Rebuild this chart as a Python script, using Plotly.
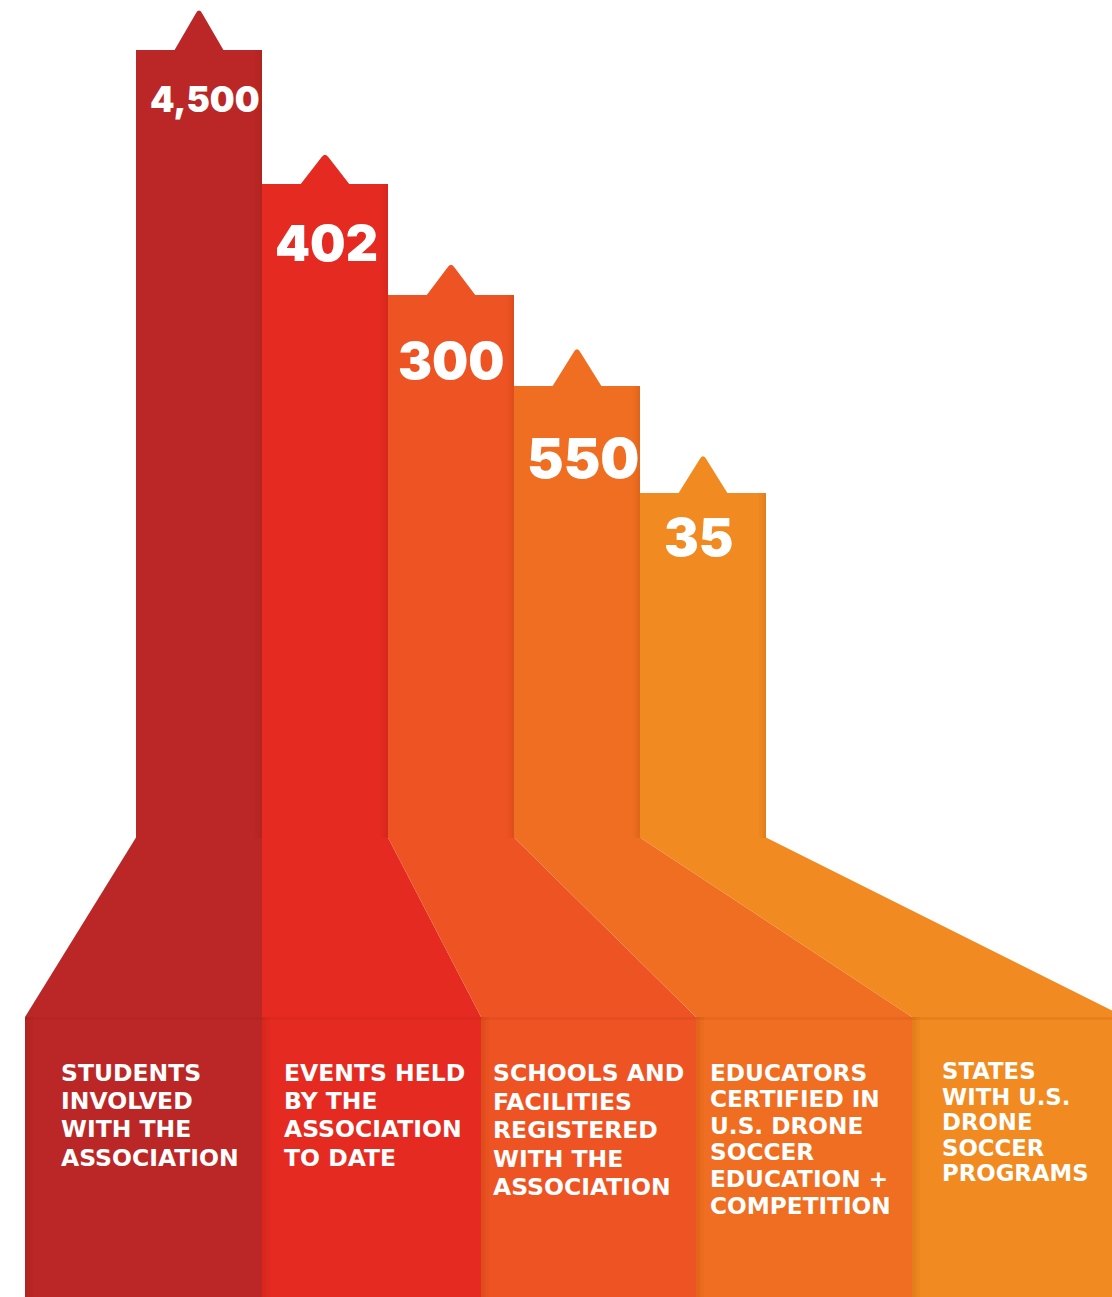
import plotly.graph_objects as go

# ---------------- data ----------------
categories = ["Students", "Events", "Schools", "Educators", "States"]
values = [4500, 402, 300, 550, 35]
value_labels = ["4,500", "402", "300", "550", "35"]
# decorative column heights (infographic, not proportional to values)
column_heights = [788, 654, 543, 452, 345]
labels = [
    "STUDENTS\nINVOLVED\nWITH THE\nASSOCIATION",
    "EVENTS HELD\nBY THE\nASSOCIATION\nTO DATE",
    "SCHOOLS AND\nFACILITIES\nREGISTERED\nWITH THE\nASSOCIATION",
    "EDUCATORS\nCERTIFIED IN\nU.S. DRONE\nSOCCER\nEDUCATION +\nCOMPETITION",
    "STATES\nWITH U.S.\nDRONE\nSOCCER\nPROGRAMS",
]

# ---------------- style / layout ----------------
colors = ["#BB2726", "#E52A22", "#EE5323", "#F06E21", "#F18A20"]
W, H = 1112, 1297
BAR_LEFT_PX = 136
BAR_W_PX = 126
BASE_PX = 838          # bottom of the columns
PANEL_TOP_PX = 1017
PANEL_EDGES_PX = [25, 262, 481, 696, 912, 1125]
TIP_W_PX = 50
TIP_H_PX = [42, 31, 32, 39, 39]
NUM_DX_PX = [6, 1, 0, 6, -5]
NUM_DY_PX = [49, 59, 65, 72, 44]
NUM_SIZE = [35, 50, 51, 55, 52]
LABEL_X_PX = [59, 282, 491, 708, 940]
LABEL_Y0_PX = [1073, 1073, 1073, 1072, 1071]
LABEL_STEP_PX = [28.2, 28.2, 28.5, 26.6, 25.5]
LABEL_SIZE = [23.5, 23.5, 23.5, 23.2, 22.8]
NUM_FONT = "Inter, Lato, sans-serif"
LABEL_FONT = "DejaVu Sans, Verdana, sans-serif"
SHADE = "rgba(110,20,0,0.035)"


def px2x(px):
    return (px - BAR_LEFT_PX) / BAR_W_PX - 0.5


def py2y(py):
    return BASE_PX - py


n = len(categories)
fig = go.Figure()

# bottom panels
for i in range(n):
    x0, x1 = px2x(PANEL_EDGES_PX[i]), px2x(PANEL_EDGES_PX[i + 1])
    y0, y1 = py2y(PANEL_TOP_PX), py2y(H + 5)
    fig.add_trace(go.Scatter(
        x=[x0, x1, x1, x0, x0], y=[y0, y0, y1, y1, y0],
        mode="lines", fill="toself", fillcolor=colors[i],
        line=dict(width=0), hoverinfo="skip"))

# trapezoids connecting columns to panels
for i in range(n):
    xl, xr = i - 0.5, i + 0.5
    px0, px1 = px2x(PANEL_EDGES_PX[i]), px2x(PANEL_EDGES_PX[i + 1])
    y0, y1 = 0.5, py2y(PANEL_TOP_PX)
    fig.add_trace(go.Scatter(
        x=[xl, xr, px1, px0, xl], y=[y0, y0, y1, y1, y0],
        mode="lines", fill="toself", fillcolor=colors[i],
        line=dict(width=0), hoverinfo="skip"))

# columns
fig.add_trace(go.Bar(
    x=list(range(n)), y=column_heights, width=1.0,
    marker=dict(color=colors, line=dict(width=0)),
    hovertext=[f"{c}: {v}" for c, v in zip(categories, values)],
    hoverinfo="text"))

# subtle shading: soft gradient at right edge of columns and left edge of panels
for i in range(n):
    for k in (2, 4, 7):
        fig.add_shape(type="rect", xref="x", yref="y",
                      x0=i + 0.5 - k / BAR_W_PX, x1=i + 0.5, y0=0, y1=column_heights[i],
                      fillcolor=SHADE, line=dict(width=0), layer="above")
        fig.add_shape(type="rect", xref="x", yref="y",
                      x0=px2x(PANEL_EDGES_PX[i]), x1=px2x(PANEL_EDGES_PX[i] + k + 1),
                      y0=py2y(H + 5), y1=py2y(PANEL_TOP_PX),
                      fillcolor=SHADE, line=dict(width=0), layer="above")
fig.add_shape(type="rect", xref="x", yref="y",
              x0=px2x(PANEL_EDGES_PX[0]), x1=px2x(PANEL_EDGES_PX[-1]),
              y0=py2y(PANEL_TOP_PX + 3), y1=py2y(PANEL_TOP_PX),
              fillcolor="rgba(110,20,0,0.07)", line=dict(width=0), layer="above")

# arrow tips on top of each column
hw = TIP_W_PX / 2 / BAR_W_PX
for i in range(n):
    top = column_heights[i]
    h = TIP_H_PX[i]
    f = 0.14
    ax, ay = i, top + h
    path = (f"M {i - hw},{top - 1} "
            f"L {ax - f * hw},{ay - f * h} "
            f"Q {ax},{ay + 1} {ax + f * hw},{ay - f * h} "
            f"L {i + hw},{top - 1} Z")
    fig.add_shape(type="path", path=path, xref="x", yref="y",
                  fillcolor=colors[i], line=dict(width=0), layer="above")

# value labels
for i in range(n):
    fig.add_annotation(
        x=i + NUM_DX_PX[i] / BAR_W_PX, y=column_heights[i] - NUM_DY_PX[i],
        text=value_labels[i], showarrow=False, xanchor="center", yanchor="middle",
        font=dict(family=NUM_FONT, size=NUM_SIZE[i], color="white", weight=900))

# category labels
for i in range(n):
    for j, line in enumerate(labels[i].split("\n")):
        fig.add_annotation(
            x=px2x(LABEL_X_PX[i]), y=py2y(LABEL_Y0_PX[i] + j * LABEL_STEP_PX[i]),
            text=line, showarrow=False, xanchor="left", yanchor="middle",
            font=dict(family=LABEL_FONT, size=LABEL_SIZE[i], color="white", weight="bold"))

fig.update_layout(
    width=W, height=H, margin=dict(l=0, r=0, t=0, b=0),
    paper_bgcolor="white", plot_bgcolor="white", showlegend=False,
    bargap=0,
    xaxis=dict(range=[px2x(0), px2x(W)], visible=False, fixedrange=True),
    yaxis=dict(range=[py2y(H), py2y(0)], visible=False, fixedrange=True),
)

fig.write_html("out.html", config={"displayModeBar": False},
               post_script="document.body.style.margin='0';document.body.style.overflow='hidden';")
